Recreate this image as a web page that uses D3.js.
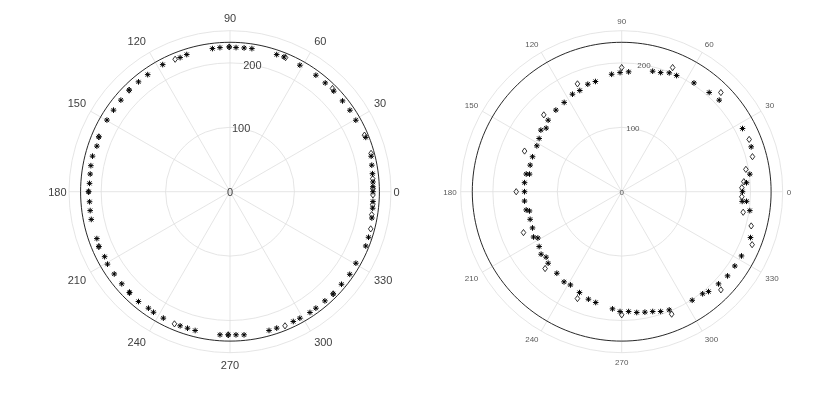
<!DOCTYPE html>
<html>
<head>
<meta charset="utf-8">
<script src="https://cdn.jsdelivr.net/npm/d3@7"></script>
<style>
  body { margin: 0; background: #fff; }
  svg { will-change: transform; }
  text { font-family: "Liberation Sans", Arial, sans-serif; }
</style>
</head>
<body>
<div id="chart"></div>
<script>

// tick values
var thetaTicks = [0, 30, 60, 90, 120, 150, 180, 210, 240, 270, 300, 330];
var rTicks = [0, 100, 200];
var rMax = 250;
var refRadius = 232;   // the solid reference circle, same in both plots

// left plot: [angle in degrees, radius]
var leftStars = [
  [97,223.9],[94,224.3],[90.3,224.8],[87.6,224],[84.4,224.3],[81.3,224.8],[71.2,224.9],[68.2,225.4],
  [61.1,224.4],[53.6,224.7],[48.8,224.5],[44.1,224.4],[38.9,224.5],[34.2,225.1],[29.6,224.7],[21.8,227.1],
  [14.1,226],[10.6,224],[7.2,223],[3.9,222.5],[2,222],[0,222],[356.1,222.5],[353.4,223],[349.5,224],
  [341.8,226.4],[338.2,227],[330.4,224.8],[325.4,225.9],[320.3,225],[315.3,225.5],[311,224.6],[306.4,224.7],
  [303.5,224.9],[298.9,224.4],[296,224.2],[288.9,223.9],[285.7,223.8],[275.6,223.3],[272.4,222.4],
  [269.3,222.2],[266,222.7],[255.9,222.2],[252.7,222],[249.6,222.2],[242.2,221.9],[237.6,221.7],[235,220.8],
  [230.2,222],[225.1,221.1],[220.4,220.7],[215.4,220.5],[210.6,221],[207.4,219.3],[202.7,220.8],[199.4,219.2],
  [191.3,219.7],[187.7,219.1],[184.1,218.6],[180,219.6],[176.6,218.5],[172.8,218.8],[169.4,219.8],
  [165.5,220.5],[161.1,218.5],[157.3,220.8],[149.8,221.1],[145,220.8],[140,221.2],[134.8,222.2],
  [129.8,222],[125.1,222.2],[117.9,223.3],[110.4,222.2],[107.5,223.3]
];
var leftDiamonds = [
  [90.3,224.8],[67.5,225.4],[45.2,225.8],[22.8,226.5],[15.2,227],[5.2,222.5],[1.3,222],[358.7,222],
  [354.8,222.5],[350.8,223],[345.2,226],[315.3,225.5],[292.3,225.1],[269.3,222.2],[247.2,222.6],
  [225.1,221.1],[202.7,220.8],[180,219.6],[157.3,220.8],[134.8,222.2],[112.5,222.6]
];

// right plot: [angle in degrees, radius]
var rightStars = [
  [94.9,183],[90.8,185],[86.7,186.4],[75.6,193.2],[71.9,194.6],[68.2,198.8],[64.7,199.5],[56.4,202.8],
  [48.6,205.4],[43.2,207.7],[103.4,175.9],[107.5,175],[112.5,170.1],[116.8,169.6],[122.8,164.9],
  [128.9,162.8],[135.8,159.3],[139.9,153.3],[142.7,157.8],[147.2,152.5],[151.6,149.8],[158.6,148.7],
  [163.8,148],[169.5,150.8],[169.2,145.7],[174.7,151.5],[180,150.9],[185.5,151.6],[190.8,151],
  [191.8,146.3],[196.8,148.5],[202.1,149.5],[207.2,153.9],[208.9,148.7],[213.6,153.9],[217.8,158.4],
  [220.9,155.3],[224.2,159.3],[231.5,161.8],[237.4,166.2],[241.2,165.2],[247.3,169.8],[252.8,174.7],
  [256.8,176.7],[265.5,182.5],[269.2,186.1],[273.3,186.4],[277.1,189],[280.9,190.5],[284.5,192.2],
  [288,195.6],[291.9,197.8],[303,201],[308.4,202.3],[311,205.5],[316.4,207.6],[321.5,210],[326.7,210.1],
  [331.8,211.1],[340.4,212.3],[351.6,201.1],[355.6,194.4],[355.4,187.7],[0,187.6],[4.1,194.3],
  [7.8,200.8],[19.1,212.8],[27.6,211.7]
];
var rightDiamonds = [
  [90,192.8],[67.7,208.4],[45,217.8],[22.3,213.9],[15,210.2],[10.2,195.9],[4.7,190.3],[1.9,186.7],
  [357.6,186.7],[350.4,191.3],[345.2,208],[337.9,218.6],[315.3,216.7],[292.2,205.4],[270,191.2],
  [247.5,179.6],[225.1,168.5],[202.6,165.2],[180,163.8],[157.3,163.5],[135.4,169.9],[112.3,181]
];

var svg = d3.select("#chart")
  .append("svg")
    .attr("width", 830)
    .attr("height", 397);

var starPath = "M0,-2.8L0,2.8M-2.8,0L2.8,0M-2,-2L2,2M-2,2L2,-2";
var diamondPath = "M0,-3.1L2.3,0L0,3.1L-2.3,0Z";

function drawPolar(cx, cy, stars, diamonds, fontSize, padFn, labelColor) {
  var g = svg.append("g").attr("transform", "translate(" + cx + "," + cy + ")");
  var r = d3.scaleLinear().domain([0, rMax]).range([0, 161]);
  var rad = function(deg) { return deg * Math.PI / 180; };
  var px = function(d) { return r(d[1]) * Math.cos(rad(d[0])); };
  var py = function(d) { return -r(d[1]) * Math.sin(rad(d[0])); };

  // grid circles
  g.selectAll(".rgrid")
    .data(rTicks.filter(function(t) { return t > 0; }).concat([rMax]))
    .enter().append("circle")
      .attr("r", function(d) { return r(d); })
      .attr("fill", "none")
      .attr("stroke", "#dedede")
      .attr("stroke-width", 0.8);

  // spokes
  g.selectAll(".spoke")
    .data(thetaTicks)
    .enter().append("line")
      .attr("x1", 0).attr("y1", 0)
      .attr("x2", function(d) { return px([d, rMax]); })
      .attr("y2", function(d) { return py([d, rMax]); })
      .attr("stroke", "#dedede")
      .attr("stroke-width", 0.8);

  // angle labels
  g.selectAll(".tlabel")
    .data(thetaTicks)
    .enter().append("text")
      .attr("x", function(d) { var s = Math.abs(Math.sin(rad(d))); return (r(rMax) + padFn(s)) * Math.cos(rad(d)); })
      .attr("y", function(d) { var s = Math.abs(Math.sin(rad(d))); return -(r(rMax) + padFn(s)) * Math.sin(rad(d)); })
      .attr("text-anchor", function(d) {
        var c = Math.cos(rad(d));
        return c > 0.1 ? "start" : (c < -0.1 ? "end" : "middle");
      })
      .attr("dy", function(d) {
        var s = Math.sin(rad(d));
        return s > 0.3 ? "-0.1em" : (s < -0.3 ? "0.8em" : "0.35em");
      })
      .attr("font-size", fontSize)
      .attr("fill", labelColor)
      .text(function(d) { return d; });

  // radius labels at 80 degrees
  g.selectAll(".rlabel")
    .data(rTicks)
    .enter().append("text")
      .attr("x", function(d) { return px([80, d]); })
      .attr("y", function(d) { return py([80, d]); })
      .attr("dy", "0.35em")
      .attr("text-anchor", "middle")
      .attr("font-size", fontSize)
      .attr("fill", labelColor)
      .text(function(d) { return d; });

  // reference circle
  var ring = d3.lineRadial()
    .angle(function(d) { return rad(90 - d); })
    .radius(function() { return r(refRadius); })
    .curve(d3.curveLinearClosed);
  g.append("path")
    .datum(d3.range(0, 360, 2))
    .attr("d", ring)
    .attr("fill", "none")
    .attr("stroke", "#111")
    .attr("stroke-width", 0.9);

  // markers
  g.append("g").selectAll("path")
    .data(stars)
    .enter().append("path")
      .attr("d", starPath)
      .attr("transform", function(d) { return "translate(" + px(d) + "," + py(d) + ")"; })
      .attr("fill", "none")
      .attr("stroke", "#000")
      .attr("stroke-width", 1);

  g.append("g").selectAll("path")
    .data(diamonds)
    .enter().append("path")
      .attr("d", diamondPath)
      .attr("transform", function(d) { return "translate(" + px(d) + "," + py(d) + ")"; })
      .attr("fill", "none")
      .attr("stroke", "#000")
      .attr("stroke-width", 0.8);
}

drawPolar(230, 191.7, leftStars, leftDiamonds, 11,
  function(s) { return 2.5 + 5.5 * s; }, "#404040");
drawPolar(621.7, 191.7, rightStars, rightDiamonds, 8,
  function(s) { return 4 + 1.5 * s; }, "#595959");

</script>
</body>
</html>
